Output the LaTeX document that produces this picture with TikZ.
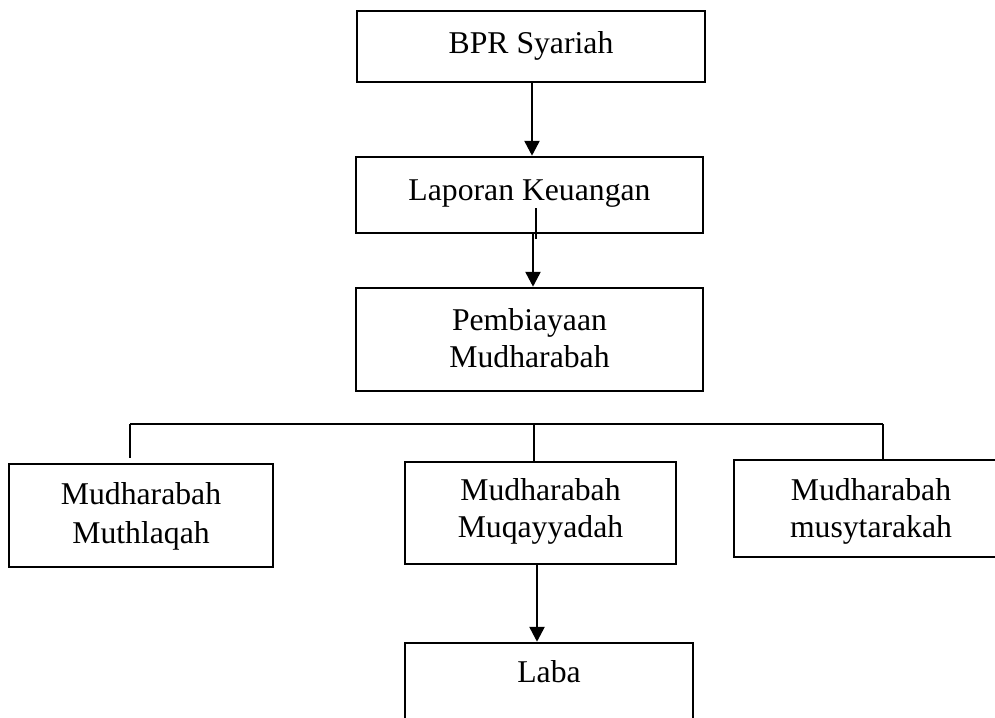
\documentclass[tikz,border=0pt]{standalone}
\usepackage{fontspec}
\setmainfont{Liberation Serif}
\usetikzlibrary{arrows.meta}
\begin{document}
\begin{tikzpicture}[x=1pt,y=-1pt,
  box/.style={draw=black,line width=2.5pt,rectangle,inner sep=0pt},
  txt/.style={anchor=base,inner sep=0pt,font=\fontsize{31.7}{38}\selectfont},
  link/.style={line width=2.4pt},
  arr/.style={line width=2.6pt,-{Triangle[width=15pt,length=15pt]}}]
\useasboundingbox (0,0) rectangle (995,717);
\clip (0,0) rectangle (995,717);
% boxes
\node[box,minimum width=348pt,minimum height=71pt] (bpr) at (531,46.5) {};
\node[box,minimum width=347pt,minimum height=76pt] (lap) at (529.5,195) {};
\node[box,minimum width=347pt,minimum height=103pt] (pem) at (529.5,339.5) {};
\node[box,minimum width=264pt,minimum height=103pt] (mut) at (141,515.5) {};
\node[box,minimum width=271pt,minimum height=102pt] (muq) at (540.5,513) {};
\node[box,minimum width=274pt,minimum height=97pt] (mus) at (871,508.5) {};
\node[box,minimum width=288pt,minimum height=110pt] (lab) at (549,698) {};
% texts
\node[txt] (tbpr) at (531,53) {BPR Syariah};
\node[txt] (tlap) at (529.5,200) {Laporan Keuangan};
\node[txt] (tpem1) at (529.5,330) {Pembiayaan};
\node[txt] (tpem2) at (529.5,367) {Mudharabah};
\node[txt] (tmut1) at (141,504) {Mudharabah};
\node[txt] (tmut2) at (141,543) {Muthlaqah};
\node[txt] (tmuq1) at (540.5,500) {Mudharabah};
\node[txt] (tmuq2) at (540.5,537) {Muqayyadah};
\node[txt] (tmus1) at (871,500) {Mudharabah};
\node[txt] (tmus2) at (871,537) {musytarakah};
\node[txt] (tlab) at (549,682) {Laba};
% connectors
\coordinate (hl) at (130,424);
\coordinate (hr) at (883,424);
\coordinate (hm) at (534,424);
\coordinate (stub) at (536,208);
\draw[arr] (bpr.south -| 532,0) -- (lap.north -| 532,0);
\draw[link] (stub) -- (536,239);
\draw[arr] (lap.south -| 533,0) -- (pem.north -| 533,0);
\draw[link] (hl) -- (hr);
\draw[link] (hl) -- (130,458);
\draw[link] (hm) -- (muq.north -| hm);
\draw[link] (hr) -- (mus.north -| hr);
\draw[arr] (muq.south -| 537,0) -- (lab.north -| 537,0);
\end{tikzpicture}
\end{document}
